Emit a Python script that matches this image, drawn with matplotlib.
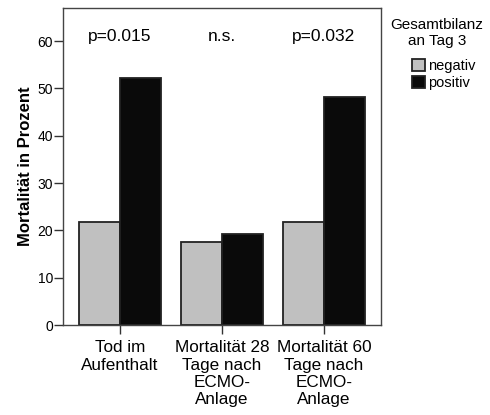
import numpy as np
import matplotlib
matplotlib.use("Agg")
from matplotlib import pyplot as plt

plt.rcParams['font.family'] = ['Liberation Sans', 'DejaVu Sans']

"""Data"""
categories = ["Tod im\nAufenthalt", "Mortalität 28\nTage nach\nECMO-\nAnlage", "Mortalität 60\nTage nach\nECMO-\nAnlage"]
negativ = [21.8, 17.5, 21.8]
positiv = [52.2, 19.3, 48.2]
pvalues = ["p=0.015", "n.s.", "p=0.032"]
yticks = [0, 10, 20, 30, 40, 50, 60]

"""Draw"""
fig = plt.figure(figsize=(4.9, 4.15), dpi=100)
ax = fig.add_axes([63/490, 90/415, 318/490, 317/415])

x = np.arange(len(categories))
w = 0.40
ax.bar(x - w/2, negativ, w, color="#c0c0c0", edgecolor="#222222", linewidth=1.3, label="negativ")
ax.bar(x + w/2, positiv, w, color="#0a0a0a", edgecolor="#222222", linewidth=1.3, label="positiv")

for xi, p in zip(x, pvalues):
    ax.text(xi, 61, p, ha="center", va="center", fontsize=12.5)

ax.set_xlim(-0.56, 2.56)
ax.set_ylim(0, 67)
ax.set_yticks(yticks)
ax.set_xticks(x)
ax.set_xticklabels(categories, fontsize=12.3, linespacing=1.2)
ax.tick_params(axis="y", labelsize=10, length=6.7, width=1, color="#333333", pad=0.5)
ax.tick_params(axis="x", length=6.5, width=1, color="#333333", pad=4.5)
ax.set_ylabel("Mortalität in Prozent", fontsize=12, fontweight="bold", labelpad=3.5)
for s in ax.spines.values():
    s.set_color("#444444")
    s.set_linewidth(1)

fig.text(437/490, 1 - 33/415, "Gesamtbilanz\nan Tag 3", ha="center", va="center", fontsize=11,
         linespacing=1.1)
leg = ax.legend(loc="upper left", bbox_to_anchor=(405/490, 1 - 52/415),
                bbox_transform=fig.transFigure, frameon=False, fontsize=10.5,
                handlelength=0.85, handleheight=0.9, handletextpad=0.25, labelspacing=0.2, borderpad=0)

fig.savefig("out.png", dpi=100)
